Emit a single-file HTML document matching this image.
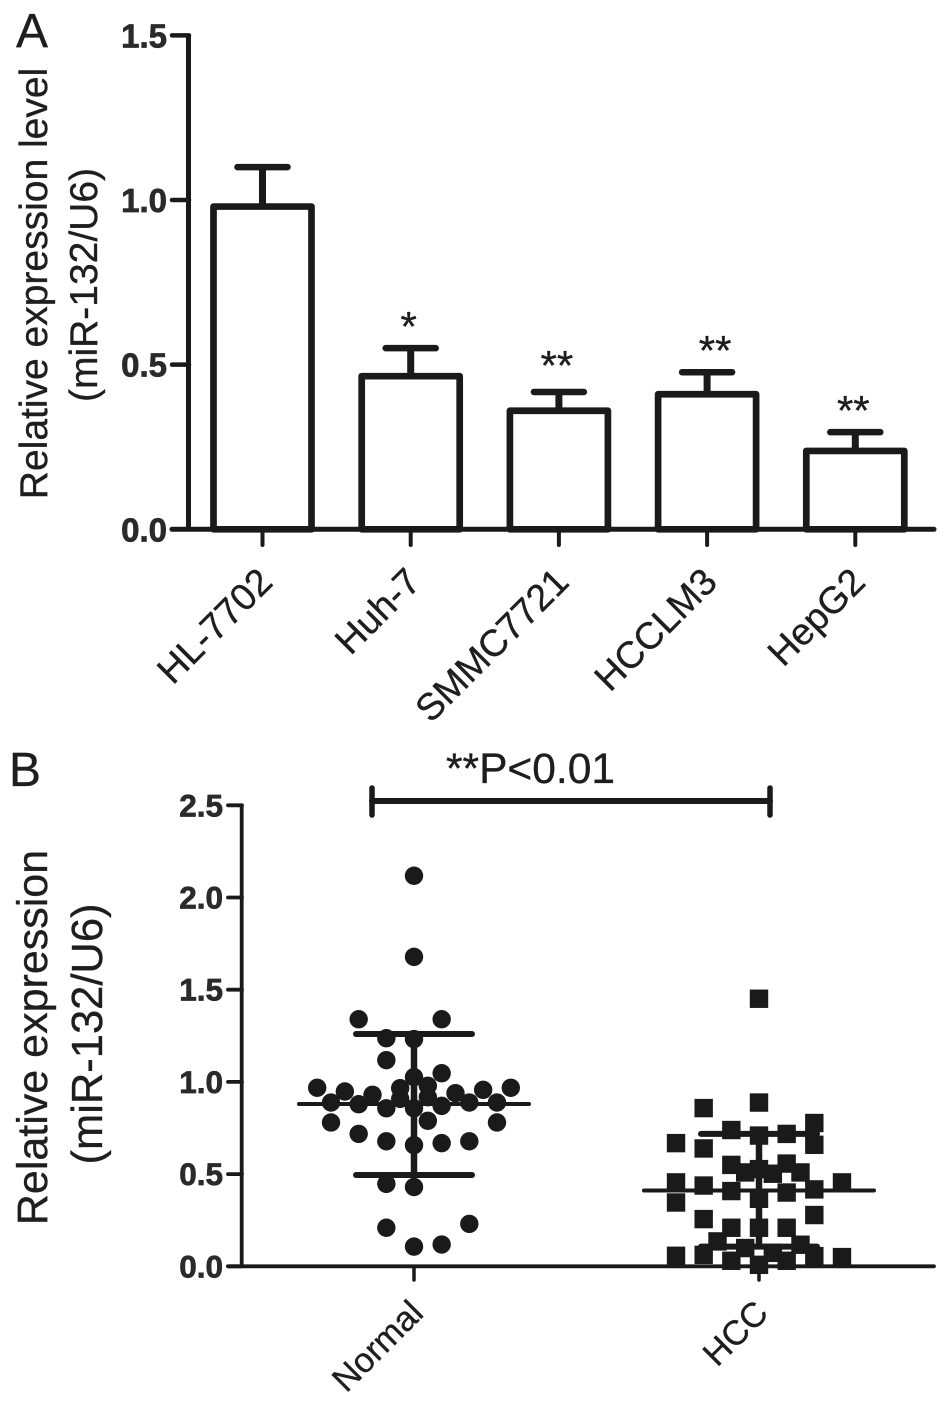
<!DOCTYPE html>
<html lang="en">
<head>
<meta charset="utf-8">
<title>miR-132 expression charts</title>
<style>
  html, body { margin: 0; padding: 0; background: #fff; }
  svg { display: block; }
  text { font-family: "Liberation Sans", Arial, sans-serif; fill: #1e1e1e; stroke: #1e1e1e; stroke-width: 0.35px; }
  .tick-label { font-weight: bold; fill: #2a2a2a; stroke: #2a2a2a; stroke-width: 0.7px; }
</style>
</head>
<body>
<svg id="chart" xmlns="http://www.w3.org/2000/svg" width="945" height="1403" viewBox="0 0 945 1403">
  <text x="16" y="47" font-size="48">A</text>
  <text x="9" y="786" font-size="48">B</text>
  <text transform="translate(47,283.5) rotate(-90)" text-anchor="middle" font-size="39">Relative expression level</text>
  <text transform="translate(97,285) rotate(-90)" text-anchor="middle" font-size="39">(miR-132/U6)</text>
  <text transform="translate(47,1037.5) rotate(-90)" text-anchor="middle" font-size="43">Relative expression</text>
  <text transform="translate(102,1034) rotate(-90)" text-anchor="middle" font-size="43.5">(miR-132/U6)</text>
  <text x="446" y="783" font-size="42.5">**P&lt;0.01</text>
  <g stroke="#1a1a1a" stroke-linecap="round" fill="none">
    <line x1="372" y1="801" x2="770" y2="801" stroke-width="6"></line>
    <line x1="372" y1="788" x2="372" y2="815" stroke-width="5.5"></line>
    <line x1="770" y1="788" x2="770" y2="815" stroke-width="5.5"></line>
  </g>
</svg>
<script>
// Panel A data
const barCategories = ['HL-7702', 'Huh-7', 'SMMC7721', 'HCCLM3', 'HepG2'];
const barValues = [0.98, 0.465, 0.36, 0.41, 0.238];
const barErrorTops = [1.10, 0.55, 0.417, 0.477, 0.295];
const barStars = ['', '*', '**', '**', '**'];
const barTickValues = [0, 0.5, 1, 1.5];
const barTickLabels = ['0.0', '0.5', '1.0', '1.5'];

// Panel B data
const scatterCategories = ['Normal', 'HCC'];
const scatterTickValues = [0, 0.5, 1, 1.5, 2, 2.5];
const scatterTickLabels = ['0.0', '0.5', '1.0', '1.5', '2.0', '2.5'];
const normalValues = [2.118, 1.678, 1.34, 1.34, 1.237, 1.232, 1.118, 1.047, 1.026, 0.966, 0.979, 0.968, 0.948, 0.93, 0.908, 0.917, 0.939, 0.957, 0.968, 0.888, 0.879, 0.857, 0.857, 0.87, 0.888, 0.888, 0.78, 0.789, 0.78, 0.718, 0.678, 0.657, 0.668, 0.678, 0.447, 0.43, 0.209, 0.23, 0.107, 0.118];
const normalSwarmColumns = [0, 0, -4, 2, -2, 0, -2, 2, 0, -1, 1, -7, -5, -3, -1, 1, 3, 5, 7, -6, -4, -2, 0, 2, 4, 6, -6, 1, 6, -4, -2, 0, 2, 4, -2, 0, -2, 4, 0, 2];
const normalSummary = { mean: 0.88, upper: 1.26, lower: 0.495 };
const hccValues = [1.451, 0.888, 0.858, 0.777, 0.739, 0.709, 0.718, 0.668, 0.639, 0.659, 0.55, 0.557, 0.527, 0.509, 0.502, 0.509, 0.455, 0.455, 0.438, 0.408, 0.40, 0.417, 0.346, 0.366, 0.256, 0.278, 0.209, 0.209, 0.209, 0.135, 0.117, 0.062, 0.057, 0.05, 0.055, 0.099, 0.073, 0.03, 0.03, 0.008];
const hccSwarmColumns = [0, 0, -4, 4, -2, 0, 2, -6, -4, 4, -2, 2, 0, -1, 1, 3, -6, 6, -4, -2, 2, 4, -6, 0, -4, 4, -2, 0, 2, -3, 3, -4, -6, 6, 4, -1, 1, -2, 2, 0];
const hccSummary = { mean: 0.411, upper: 0.718, lower: 0.107 };

const svg = document.getElementById('chart');
const NS = 'http://www.w3.org/2000/svg';
const INK = '#1a1a1a';

function make(tag, attrs, text) {
  const el = document.createElementNS(NS, tag);
  for (const key in attrs) el.setAttribute(key, attrs[key]);
  if (text !== undefined) el.textContent = text;
  svg.appendChild(el);
  return el;
}

function yA(v) { return 529.3 - v * 329.3; }
function xA(i) { return 262.5 + i * 148.2; }
function yB(v) { return 1266.3 - v * 184.4; }
function xB(i) { return 414 + i * 345; }
function swarmX(i, column) { return xB(i) + column * 13.83; }

// Panel A axes
const axisAY = make('line', { x1: 188.5, y1: yA(1.5), x2: 188.5, y2: yA(0), stroke: INK, 'stroke-width': 5 });


barTickValues.forEach(function (v, i) {
  const tick = make('line', { x1: 172, y1: yA(v), x2: 189, y2: yA(v), stroke: INK, 'stroke-width': 4.5, 'stroke-linecap': 'round' });
  
  
  const label = make('text', { x: 167, y: yA(v) + 12, 'text-anchor': 'end', 'font-size': 33, class: 'tick-label' }, barTickLabels[i]);
  
  
});

// Panel A bars
barCategories.forEach(function (name, i) {
  const cx = xA(i);
  const half = 49;
  const stem = make('line', { x1: cx, y1: yA(barValues[i]), x2: cx, y2: yA(barErrorTops[i]), stroke: INK, 'stroke-width': 7 });
  
  
  const cap = make('line', { x1: cx - 25, y1: yA(barErrorTops[i]), x2: cx + 25, y2: yA(barErrorTops[i]), stroke: INK, 'stroke-width': 6.5, 'stroke-linecap': 'round' });
  
  
  const bar = make('rect', { x: cx - half, y: yA(barValues[i]), width: half * 2, height: yA(0) - yA(barValues[i]), fill: '#fff', stroke: INK, 'stroke-width': 6.7, 'stroke-linejoin': 'round' });
  
  
  const tick = make('line', { x1: cx, y1: 530, x2: cx, y2: 545, stroke: INK, 'stroke-width': 4, 'stroke-linecap': 'round' });
  
  
  const label = make('text', { transform: 'translate(' + (cx + 12) + ',584) rotate(-45)', 'text-anchor': 'end', 'font-size': 37.5 }, name);
  
  
  if (barStars[i]) {
    const starX = cx + (i === 3 ? 8 : -2);
    const starY = yA(barErrorTops[i]) - (i === 2 ? 12 : 7);
    const star = make('text', { x: starX, y: starY, 'text-anchor': 'middle', 'font-size': 42 }, barStars[i]);
    
    
  }
});
const axisAX = make('line', { x1: 172, y1: yA(0), x2: 934, y2: yA(0), stroke: INK, 'stroke-width': 5, 'stroke-linecap': 'round' });



// Panel B axes
const axisBY = make('line', { x1: 241.7, y1: yB(2.5), x2: 241.7, y2: yB(0), stroke: INK, 'stroke-width': 3.8 });


scatterTickValues.forEach(function (v, i) {
  const tick = make('line', { x1: 228, y1: yB(v), x2: 242, y2: yB(v), stroke: INK, 'stroke-width': 3.8, 'stroke-linecap': 'round' });
  
  
  const label = make('text', { x: 223, y: yB(v) + 11, 'text-anchor': 'end', 'font-size': 31.5, class: 'tick-label' }, scatterTickLabels[i]);
  
  
});
const axisBX = make('line', { x1: 228, y1: yB(0), x2: 934, y2: yB(0), stroke: INK, 'stroke-width': 3.8, 'stroke-linecap': 'round' });


scatterCategories.forEach(function (name, i) {
  const cx = xB(i);
  const tick = make('line', { x1: cx, y1: 1267, x2: cx, y2: 1280, stroke: INK, 'stroke-width': 3.5, 'stroke-linecap': 'round' });
  
  
  const label = make('text', { transform: 'translate(' + (cx + 11) + ',1315) rotate(-45)', 'text-anchor': 'end', 'font-size': 34.5 }, name);
  
  
});

// Panel B points
normalValues.forEach(function (v, i) {
  const dot = make('circle', { cx: swarmX(0, normalSwarmColumns[i]), cy: yB(v), r: 9.2, fill: INK });
  
  
});
hccValues.forEach(function (v, i) {
  const size = 18.4;
  const dot = make('rect', { x: swarmX(1, hccSwarmColumns[i]) - size / 2, y: yB(v) - size / 2, width: size, height: size, fill: INK });
  
  
});

// Panel B summary lines
function drawSummary(i, summary) {
  const cx = xB(i);
  const stem = make('line', { x1: cx, y1: yB(summary.upper), x2: cx, y2: yB(summary.lower), stroke: INK, 'stroke-width': 6.5 });
  
  
  const mean = make('line', { x1: cx - 115, y1: yB(summary.mean), x2: cx + 115, y2: yB(summary.mean), stroke: INK, 'stroke-width': 4, 'stroke-linecap': 'round' });
  
  
  const upper = make('line', { x1: cx - 58, y1: yB(summary.upper), x2: cx + 58, y2: yB(summary.upper), stroke: INK, 'stroke-width': 6, 'stroke-linecap': 'round' });
  
  
  const lower = make('line', { x1: cx - 58, y1: yB(summary.lower), x2: cx + 58, y2: yB(summary.lower), stroke: INK, 'stroke-width': 6, 'stroke-linecap': 'round' });
  
  
}
drawSummary(0, normalSummary);
drawSummary(1, hccSummary);
</script>
</body>
</html>
